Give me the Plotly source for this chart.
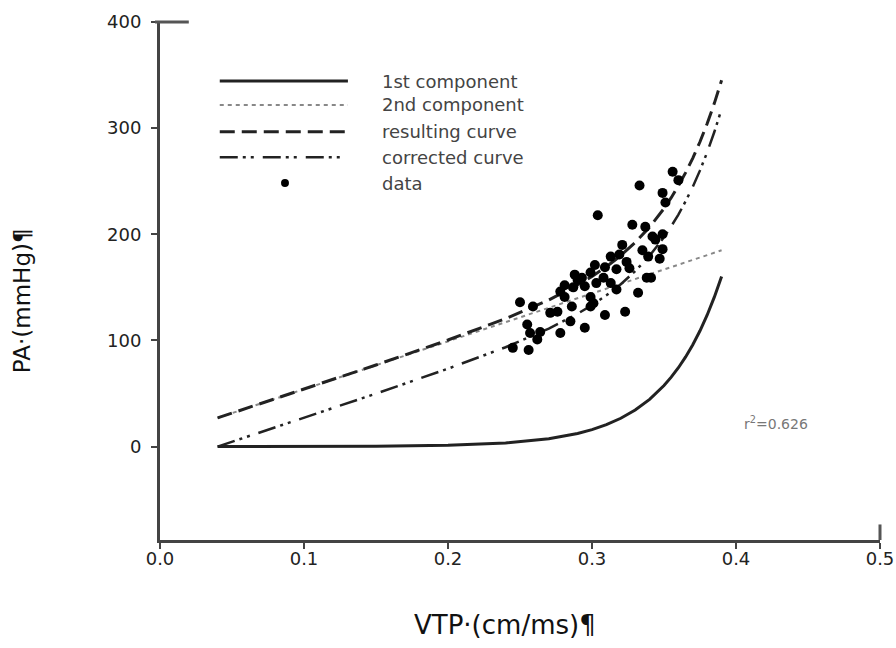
import plotly.graph_objects as go

# ---- curve data ----
curve_x = [0.04, 0.10, 0.15, 0.20, 0.24, 0.27, 0.29, 0.30, 0.31, 0.32, 0.33, 0.34, 0.345,
           0.35, 0.355, 0.36, 0.365, 0.37, 0.375, 0.38, 0.385, 0.39]
first_component = [0.0, 0.1, 0.3, 1.2, 3.4, 7.4, 12.4, 16.0, 20.7, 26.7, 34.5, 44.5, 50.6,
                   57.5, 65.4, 74.3, 84.5, 96.0, 109.1, 124.0, 141.0, 160.2]
second_component = [27.0, 54.1, 76.6, 99.2, 117.2, 130.7, 139.8, 144.3, 148.8, 153.3, 157.8,
                    162.3, 164.6, 166.8, 169.1, 171.3, 173.6, 175.8, 178.1, 180.3, 182.6, 184.9]
resulting_curve = [27.0, 54.2, 76.9, 100.4, 120.6, 138.1, 152.2, 160.3, 169.5, 180.0, 192.3,
                   206.8, 215.2, 224.3, 234.5, 245.6, 258.1, 271.8, 287.2, 304.3, 323.6, 345.1]
corrected_curve = [0.0, 27.2, 49.9, 73.4, 93.6, 111.1, 125.2, 133.3, 142.5, 153.0, 165.3,
                   179.8, 188.2, 197.3, 207.5, 218.6, 231.1, 244.8, 260.2, 277.3, 296.6, 318.1]

# ---- measured data points ----
data_x = [0.356, 0.360, 0.333, 0.349, 0.351, 0.304, 0.328, 0.337, 0.342, 0.349,
          0.321, 0.335, 0.349, 0.339, 0.347, 0.313, 0.324, 0.309, 0.317, 0.326,
          0.338, 0.341, 0.293, 0.299, 0.308, 0.313, 0.303, 0.281, 0.287, 0.317,
          0.332, 0.278, 0.281, 0.299, 0.299, 0.250, 0.259, 0.286, 0.271, 0.276,
          0.309, 0.323, 0.285, 0.255, 0.257, 0.264, 0.262, 0.278, 0.295, 0.245,
          0.256, 0.290, 0.288, 0.295, 0.301, 0.344, 0.302, 0.319]
data_y = [259, 251, 246, 239, 230, 218, 209, 207, 198, 200,
          190, 185, 186, 179, 177, 179, 174, 169, 167, 168,
          159, 159, 159, 164, 159, 154, 154, 152, 150, 148,
          145, 146, 141, 141, 132, 136, 132, 132, 126, 127,
          124, 127, 118, 115, 107, 108, 101, 107, 112, 93,
          91, 157, 162, 151, 135, 195, 171, 181]

x_ticks = [0.0, 0.1, 0.2, 0.3, 0.4, 0.5]
x_tick_labels = ["0.0", "0.1", "0.2", "0.3", "0.4", "0.5"]
y_ticks = [0, 100, 200, 300, 400]
y_tick_labels = ["0", "100", "200", "300", "400"]

legend_labels = ["1st component", "2nd component", "resulting curve", "corrected curve", "data"]
x_title = "VTP·(cm/ms)¶"
y_title = "PA·(mmHg)¶"
r2_text = "r<sup>2</sup>=0.626"

fig = go.Figure()

fig.add_trace(go.Scatter(x=curve_x, y=first_component, mode="lines",
                         line=dict(color="#222222", width=3, dash="solid"),
                         name=legend_labels[0], showlegend=False))
fig.add_trace(go.Scatter(x=curve_x, y=second_component, mode="lines",
                         line=dict(color="#888888", width=2, dash="4px,4px"),
                         name=legend_labels[1], showlegend=False))
fig.add_trace(go.Scatter(x=curve_x, y=resulting_curve, mode="lines",
                         line=dict(color="#222222", width=3, dash="15px,7px"),
                         name=legend_labels[2], showlegend=False))
fig.add_trace(go.Scatter(x=curve_x, y=corrected_curve, mode="lines",
                         line=dict(color="#222222", width=2.5, dash="18px,5px,3px,5px,3px,9px"),
                         name=legend_labels[3], showlegend=False))
fig.add_trace(go.Scatter(x=data_x, y=data_y, mode="markers",
                         marker=dict(color="#000000", size=10),
                         name=legend_labels[4], showlegend=False))

# ---- hand-drawn legend (paper coordinates) ----
leg_x0, leg_x1, leg_text_x = 0.083, 0.261, 0.3056
leg_rows = [0.886, 0.840, 0.788, 0.739, 0.689]
leg_styles = [
    dict(color="#222222", width=3, dash="solid"),
    dict(color="#888888", width=2, dash="4px,4px"),
    dict(color="#222222", width=3, dash="15px,7px"),
    dict(color="#222222", width=2.5, dash="18px,5px,3px,5px,3px,9px"),
]
shapes = []
for row, style in zip(leg_rows[:4], leg_styles):
    shapes.append(dict(type="line", xref="paper", yref="paper",
                       x0=leg_x0, x1=leg_x1, y0=row, y1=row, line=style))
# data symbol
cx, cy = 0.1736, leg_rows[4]
shapes.append(dict(type="circle", xref="paper", yref="paper",
                   x0=cx - 0.0055, x1=cx + 0.0055, y0=cy - 0.0077, y1=cy + 0.0077,
                   fillcolor="#000000", line=dict(color="#000000", width=0)))
# axis end caps
shapes.append(dict(type="line", xref="paper", yref="paper", x0=-0.007, x1=0.04, y0=1, y1=1,
                   line=dict(color="#555555", width=3)))
shapes.append(dict(type="line", xref="paper", yref="paper", x0=1, x1=1, y0=0, y1=0.03,
                   line=dict(color="#555555", width=3)))

annotations = []
for row, label in zip(leg_rows, legend_labels):
    annotations.append(dict(xref="paper", yref="paper", x=leg_text_x, y=row, text=label,
                            showarrow=False, xanchor="left", yanchor="middle",
                            font=dict(family="DejaVu Sans", size=18, color="#444444")))
annotations.append(dict(xref="x", yref="y", x=0.4045, y=22, text=r2_text,
                        showarrow=False, xanchor="left", yanchor="middle",
                        font=dict(family="DejaVu Sans", size=14, color="#777777")))
annotations.append(dict(xref="paper", yref="paper", x=0.479, y=-0.164, text=x_title,
                        showarrow=False, xanchor="center", yanchor="middle",
                        font=dict(family="DejaVu Sans", size=26, color="#111111")))
annotations.append(dict(xref="paper", yref="paper", x=-0.1917, y=0.463, text=y_title,
                        showarrow=False, xanchor="center", yanchor="middle", textangle=-90,
                        font=dict(family="DejaVu Sans", size=23, color="#111111")))

fig.update_layout(
    width=896, height=648,
    margin=dict(l=160, r=16, t=22, b=108),
    paper_bgcolor="white", plot_bgcolor="white",
    showlegend=False,
    shapes=shapes, annotations=annotations,
    xaxis=dict(range=[0, 0.5], tickvals=x_ticks, ticktext=x_tick_labels, automargin=False,
               showgrid=False, zeroline=False, showline=True, linecolor="#444444", linewidth=3,
               ticks="outside", ticklen=6, tickwidth=2, tickcolor="#444444",
               ticklabelstandoff=-6,
               tickfont=dict(family="DejaVu Sans", size=18, color="#222222")),
    yaxis=dict(range=[-88, 400], tickvals=y_ticks, ticktext=y_tick_labels, automargin=False,
               showgrid=False, zeroline=False, showline=True, linecolor="#444444", linewidth=3,
               ticks="outside", ticklen=6, tickwidth=2, tickcolor="#444444",
               ticklabelstandoff=6,
               tickfont=dict(family="DejaVu Sans", size=18, color="#222222")),
)

fig.write_html("out.html")
